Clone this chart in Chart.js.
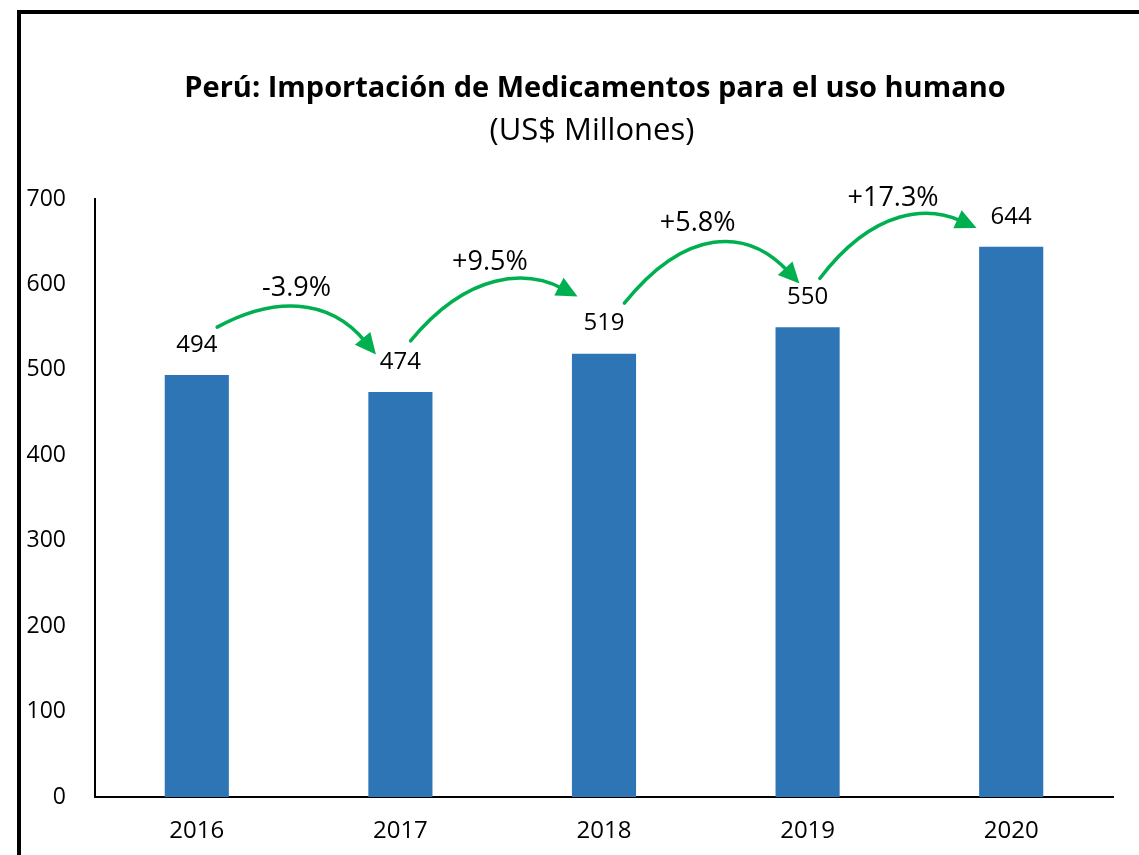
<!DOCTYPE html>
<html>
<head>
<meta charset="utf-8">
<script src="https://cdn.jsdelivr.net/npm/chart.js@4/dist/chart.umd.min.js"></script>
<style>
  html, body { margin: 0; padding: 0; background: #fff; }
</style>
</head>
<body>
<canvas id="chart" width="1139" height="855"></canvas>
<script>
// Data
const years = ["2016", "2017", "2018", "2019", "2020"];
const imports = [494, 474, 519, 550, 644];
const growthLabels = ["-3.9%", "+9.5%", "+5.8%", "+17.3%"];
const yMin = 0;
const yMax = 700;
const yStep = 100;

const FONT = "'Open Sans', 'Noto Sans', sans-serif";
const GREEN = "#00B050";

// Frame, title and subtitle
const framePlugin = {
  id: "frame",
  beforeDraw(chart) {
    const c = chart.ctx;
    c.save();
    c.fillStyle = "#fff";
    c.fillRect(0, 0, chart.width, chart.height);
    c.strokeStyle = "#000";
    c.lineWidth = 4;
    c.beginPath();
    c.moveTo(19, chart.height);
    c.lineTo(19, 12);
    c.lineTo(chart.width, 12);
    c.stroke();

    c.fillStyle = "#000";
    c.textAlign = "center";
    c.textBaseline = "middle";
    c.font = "bold 29px " + FONT;
    c.fillText("Perú: Importación de Medicamentos para el uso humano", 595, 89);
    c.font = "31px " + FONT;
    c.fillText("(US$ Millones)", 592, 131);
    c.restore();
  }
};

// Value labels above bars
const valueLabels = {
  id: "valueLabels",
  afterDatasetsDraw(chart) {
    const c = chart.ctx;
    const meta = chart.getDatasetMeta(0);
    c.save();
    c.fillStyle = "#000";
    c.font = "24px " + FONT;
    c.textAlign = "center";
    c.textBaseline = "middle";
    meta.data.forEach((bar, i) => {
      c.fillText(String(imports[i]), bar.x, bar.y - 30);
    });
    c.restore();
  }
};

// Curved green growth arrows between bars (positions in category/value units)
const growthArrows = {
  id: "growthArrows",
  afterDatasetsDraw(chart, args, opts) {
    const c = chart.ctx;
    const xs = chart.scales.x;
    const ys = chart.scales.y;
    c.save();
    opts.paths.forEach((p, i) => {
      const x0 = xs.getPixelForValue(p.from[0]);
      const y0 = ys.getPixelForValue(p.from[1]);
      const x3 = xs.getPixelForValue(p.to[0]);
      const y3 = ys.getPixelForValue(p.to[1]);
      const tx = xs.getPixelForValue(p.text[0]);
      const ty = ys.getPixelForValue(p.text[1]);
      const peak = ty + 20;
      const dx = x3 - x0;
      const cy = (peak - 0.125 * (y0 + y3)) / 0.75;
      const x1 = x0 + 0.35 * dx, x2 = x0 + 0.7 * dx;

      const ang = Math.atan2(y3 - cy, x3 - x2);
      const headLen = 21, headW = 10;
      const bx = x3 - Math.cos(ang) * headLen * 0.8;
      const by = y3 - Math.sin(ang) * headLen * 0.8;

      c.strokeStyle = GREEN;
      c.lineWidth = 3.5;
      c.lineCap = "round";
      c.beginPath();
      c.moveTo(x0, y0);
      c.bezierCurveTo(x1, cy, x2, cy, bx, by);
      c.stroke();

      c.fillStyle = GREEN;
      c.beginPath();
      c.moveTo(x3, y3);
      c.lineTo(x3 - Math.cos(ang) * headLen + Math.sin(ang) * headW,
               y3 - Math.sin(ang) * headLen - Math.cos(ang) * headW);
      c.lineTo(x3 - Math.cos(ang) * headLen - Math.sin(ang) * headW,
               y3 - Math.sin(ang) * headLen + Math.cos(ang) * headW);
      c.closePath();
      c.fill();

      c.fillStyle = "#000";
      c.font = "27px " + FONT;
      c.textAlign = "center";
      c.textBaseline = "middle";
      c.fillText(growthLabels[i], tx, ty);
    });
    c.restore();
  }
};

new Chart(document.getElementById("chart"), {
  type: "bar",
  data: {
    labels: years,
    datasets: [{
      data: imports,
      backgroundColor: "#2E75B6",
      categoryPercentage: 1,
      barPercentage: 0.315
    }]
  },
  options: {
    responsive: false,
    devicePixelRatio: 1,
    animation: false,
    layout: { padding: { left: 20, right: 26, top: 199, bottom: 0 } },
    plugins: {
      legend: { display: false },
      tooltip: { enabled: false },
      title: { display: false },
      growthArrows: {
        paths: [
          { from: [0.10, 550], to: [0.88, 518], text: [0.49, 596] },
          { from: [1.05, 534], to: [1.87, 586], text: [1.44, 626] },
          { from: [2.10, 578], to: [2.96, 601], text: [2.46, 671] },
          { from: [3.06, 607], to: [3.83, 666], text: [3.42, 701] }
        ]
      }
    },
    scales: {
      x: {
        grid: { display: false, drawTicks: false },
        border: { color: "#000", width: 2 },
        ticks: { color: "#000", font: { family: FONT, size: 24 }, padding: 20 },
        afterFit(s) { s.height = 58; }
      },
      y: {
        min: yMin,
        max: yMax,
        grid: { display: false, drawTicks: false },
        border: { color: "#000", width: 2 },
        ticks: { stepSize: yStep, color: "#000", font: { family: FONT, size: 23 }, padding: 29 },
        afterFit(s) { s.width = 75; }
      }
    }
  },
  plugins: [framePlugin, valueLabels, growthArrows]
});
</script>
</body>
</html>
